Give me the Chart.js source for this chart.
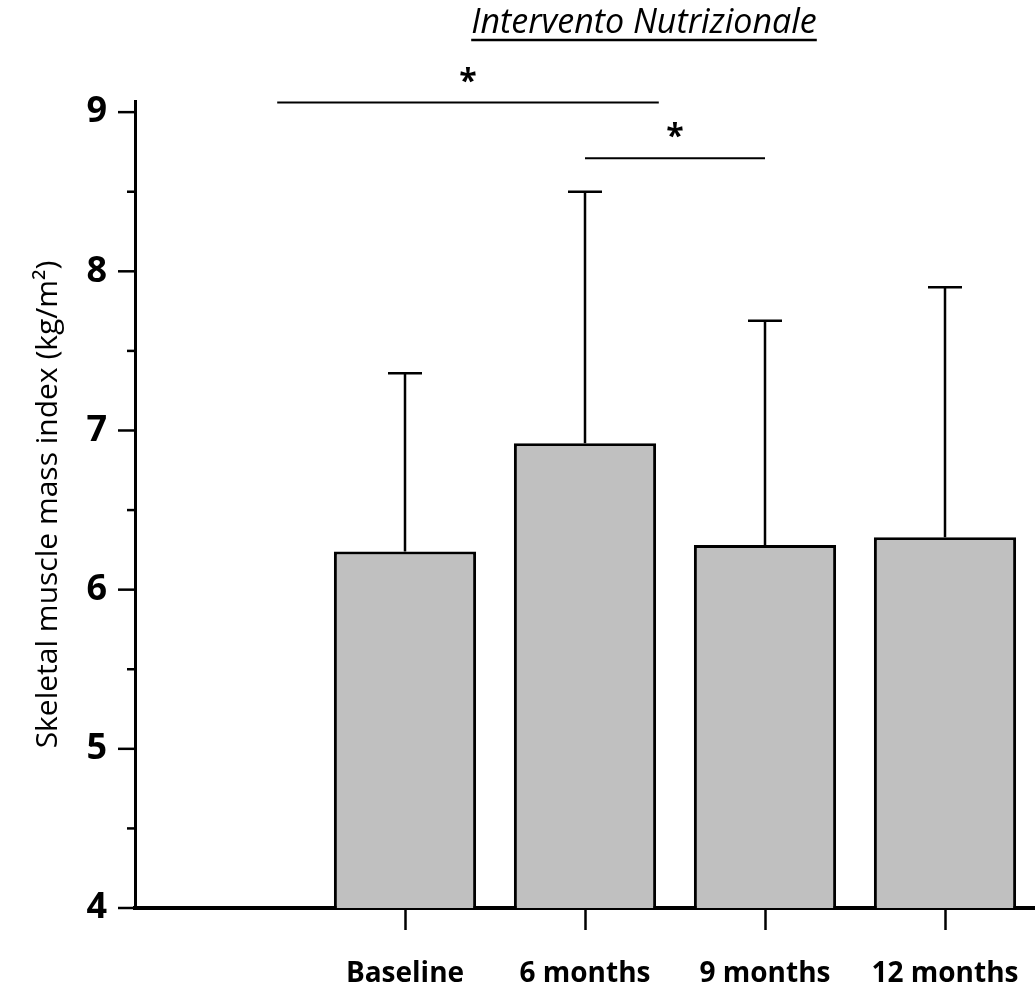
<!DOCTYPE html>
<html>
<head>
<meta charset="utf-8">
<script src="https://cdn.jsdelivr.net/npm/chart.js@4.4.1/dist/chart.umd.min.js"></script>
<style>
  body { margin: 0; background: #fff; }
</style>
</head>
<body>
<canvas id="smmiChart" width="1035" height="995"></canvas>
<script>
// data
var categories = ['', 'Baseline', '6 months', '9 months', '12 months'];
var meanValues = [null, 6.24, 6.92, 6.28, 6.33];
var errorTops = [null, 7.36, 8.50, 7.69, 7.90];
var yTickValues = [4, 4.5, 5, 5.5, 6, 6.5, 7, 7.5, 8, 8.5, 9];

// significance brackets (category index from / to, level on y)
var sigFrom = [0.29, 2.0];
var sigTo = [2.41, 3.0];
var sigLevel = [9.06, 8.71];
var sigLabel = ['*', '*'];

var chartTitle = 'Intervento Nutrizionale';
var yTitle = 'Skeletal muscle mass index (kg/m\u00B2)';

var fontFamily = '"Open Sans", sans-serif';

var extrasPlugin = {
    id: 'extras',
    afterDraw: function(chart) {
        var ctx = chart.ctx;
        var xs = chart.scales.x, ys = chart.scales.y;
        var meta = chart.getDatasetMeta(0);
        var left = chart.chartArea.left;
        ctx.save();
        ctx.strokeStyle = '#000';
        ctx.lineCap = 'butt';

        // error bars (upper only)
        ctx.lineWidth = 2.5;
        for (var i = 0; i < meanValues.length; i++) {
            if (meanValues[i] === null) continue;
            var bx = meta.data[i].x;
            var yBar = meta.data[i].y;
            var yTop = ys.getPixelForValue(errorTops[i]);
            ctx.beginPath();
            ctx.moveTo(bx, yBar);
            ctx.lineTo(bx, yTop);
            ctx.moveTo(bx - 17, yTop);
            ctx.lineTo(bx + 17, yTop);
            ctx.stroke();
        }

        // y ticks, long at integers, short at halves
        ctx.lineWidth = 2.5;
        yTickValues.forEach(function(v) {
            var py = ys.getPixelForValue(v);
            var len = (v % 1 === 0) ? 17 : 8;
            ctx.beginPath();
            ctx.moveTo(left - len, py);
            ctx.lineTo(left, py);
            ctx.stroke();
        });

        // significance lines + stars
        ctx.lineWidth = 2;
        ctx.fillStyle = '#000';
        ctx.font = 'bold 32px ' + fontFamily;
        ctx.textAlign = 'center';
        ctx.textBaseline = 'middle';
        for (var k = 0; k < sigFrom.length; k++) {
            var x1 = xs.getPixelForValue(sigFrom[k]);
            var x2 = xs.getPixelForValue(sigTo[k]);
            var ly = ys.getPixelForValue(sigLevel[k]);
            ctx.beginPath();
            ctx.moveTo(x1, ly);
            ctx.lineTo(x2, ly);
            ctx.stroke();
            ctx.fillText(sigLabel[k], (x1 + x2) / 2, ly - 20);
        }

        // title, italic + underlined
        ctx.font = 'italic 34px ' + fontFamily;
        ctx.textBaseline = 'alphabetic';
        var tx = 644, ty = 33;
        ctx.fillText(chartTitle, tx, ty);
        var w = ctx.measureText(chartTitle).width;
        ctx.lineWidth = 2.5;
        ctx.beginPath();
        ctx.moveTo(tx - w / 2, ty + 7);
        ctx.lineTo(tx + w / 2, ty + 7);
        ctx.stroke();

        ctx.restore();
    }
};

var smmiConfig = {
    type: 'bar',
    data: {
        labels: categories,
        datasets: [{
            data: meanValues,
            backgroundColor: '#c0c0c0',
            borderColor: '#000',
            borderWidth: 3,
            borderSkipped: 'bottom',
            barPercentage: 0.79,
            categoryPercentage: 1.0
        }]
    },
    options: {
        responsive: false,
        animation: false,
        devicePixelRatio: 1,
        layout: { padding: { top: 101, right: 0, left: 0, bottom: 0 } },
        plugins: {
            legend: { display: false },
            tooltip: { enabled: false },
            title: { display: false }
        },
        scales: {
            x: {
                grid: {
                    display: true,
                    drawOnChartArea: false,
                    offset: false,
                    tickLength: 22,
                    tickWidth: 2.5,
                    tickColor: function(c) { return c.index === 0 ? 'rgba(0,0,0,0)' : '#000'; }
                },
                border: { display: true, color: '#000', width: 4 },
                ticks: {
                    color: '#000',
                    padding: 27,
                    maxRotation: 0,
                    font: { family: fontFamily, size: 28, weight: 'bold' }
                },
                afterFit: function(s) {
                    s.height = 87;
                    s.paddingLeft = 0;
                    s.paddingRight = 0;
                }
            },
            y: {
                min: 4,
                max: 9.07,
                afterBuildTicks: function(s) {
                    s.ticks = yTickValues.map(function(v) { return { value: v }; });
                },
                grid: { display: false, drawTicks: true, tickLength: 16 },
                border: { display: true, color: '#000', width: 3 },
                ticks: {
                    color: '#000',
                    padding: 12,
                    font: { family: fontFamily, size: 36, weight: 'bold' },
                    callback: function(v) { return v % 1 === 0 ? v : ''; }
                },
                title: {
                    display: true,
                    text: yTitle,
                    color: '#000',
                    padding: { top: 30, bottom: 0 },
                    font: { family: fontFamily, size: 30 }
                },
                afterFit: function(s) { s.width = 135; }
            }
        }
    },
    plugins: [extrasPlugin]
};

var smmiCtx = document.getElementById('smmiChart');
var smmiChart = new Chart(smmiCtx, smmiConfig);
</script>
</body>
</html>
